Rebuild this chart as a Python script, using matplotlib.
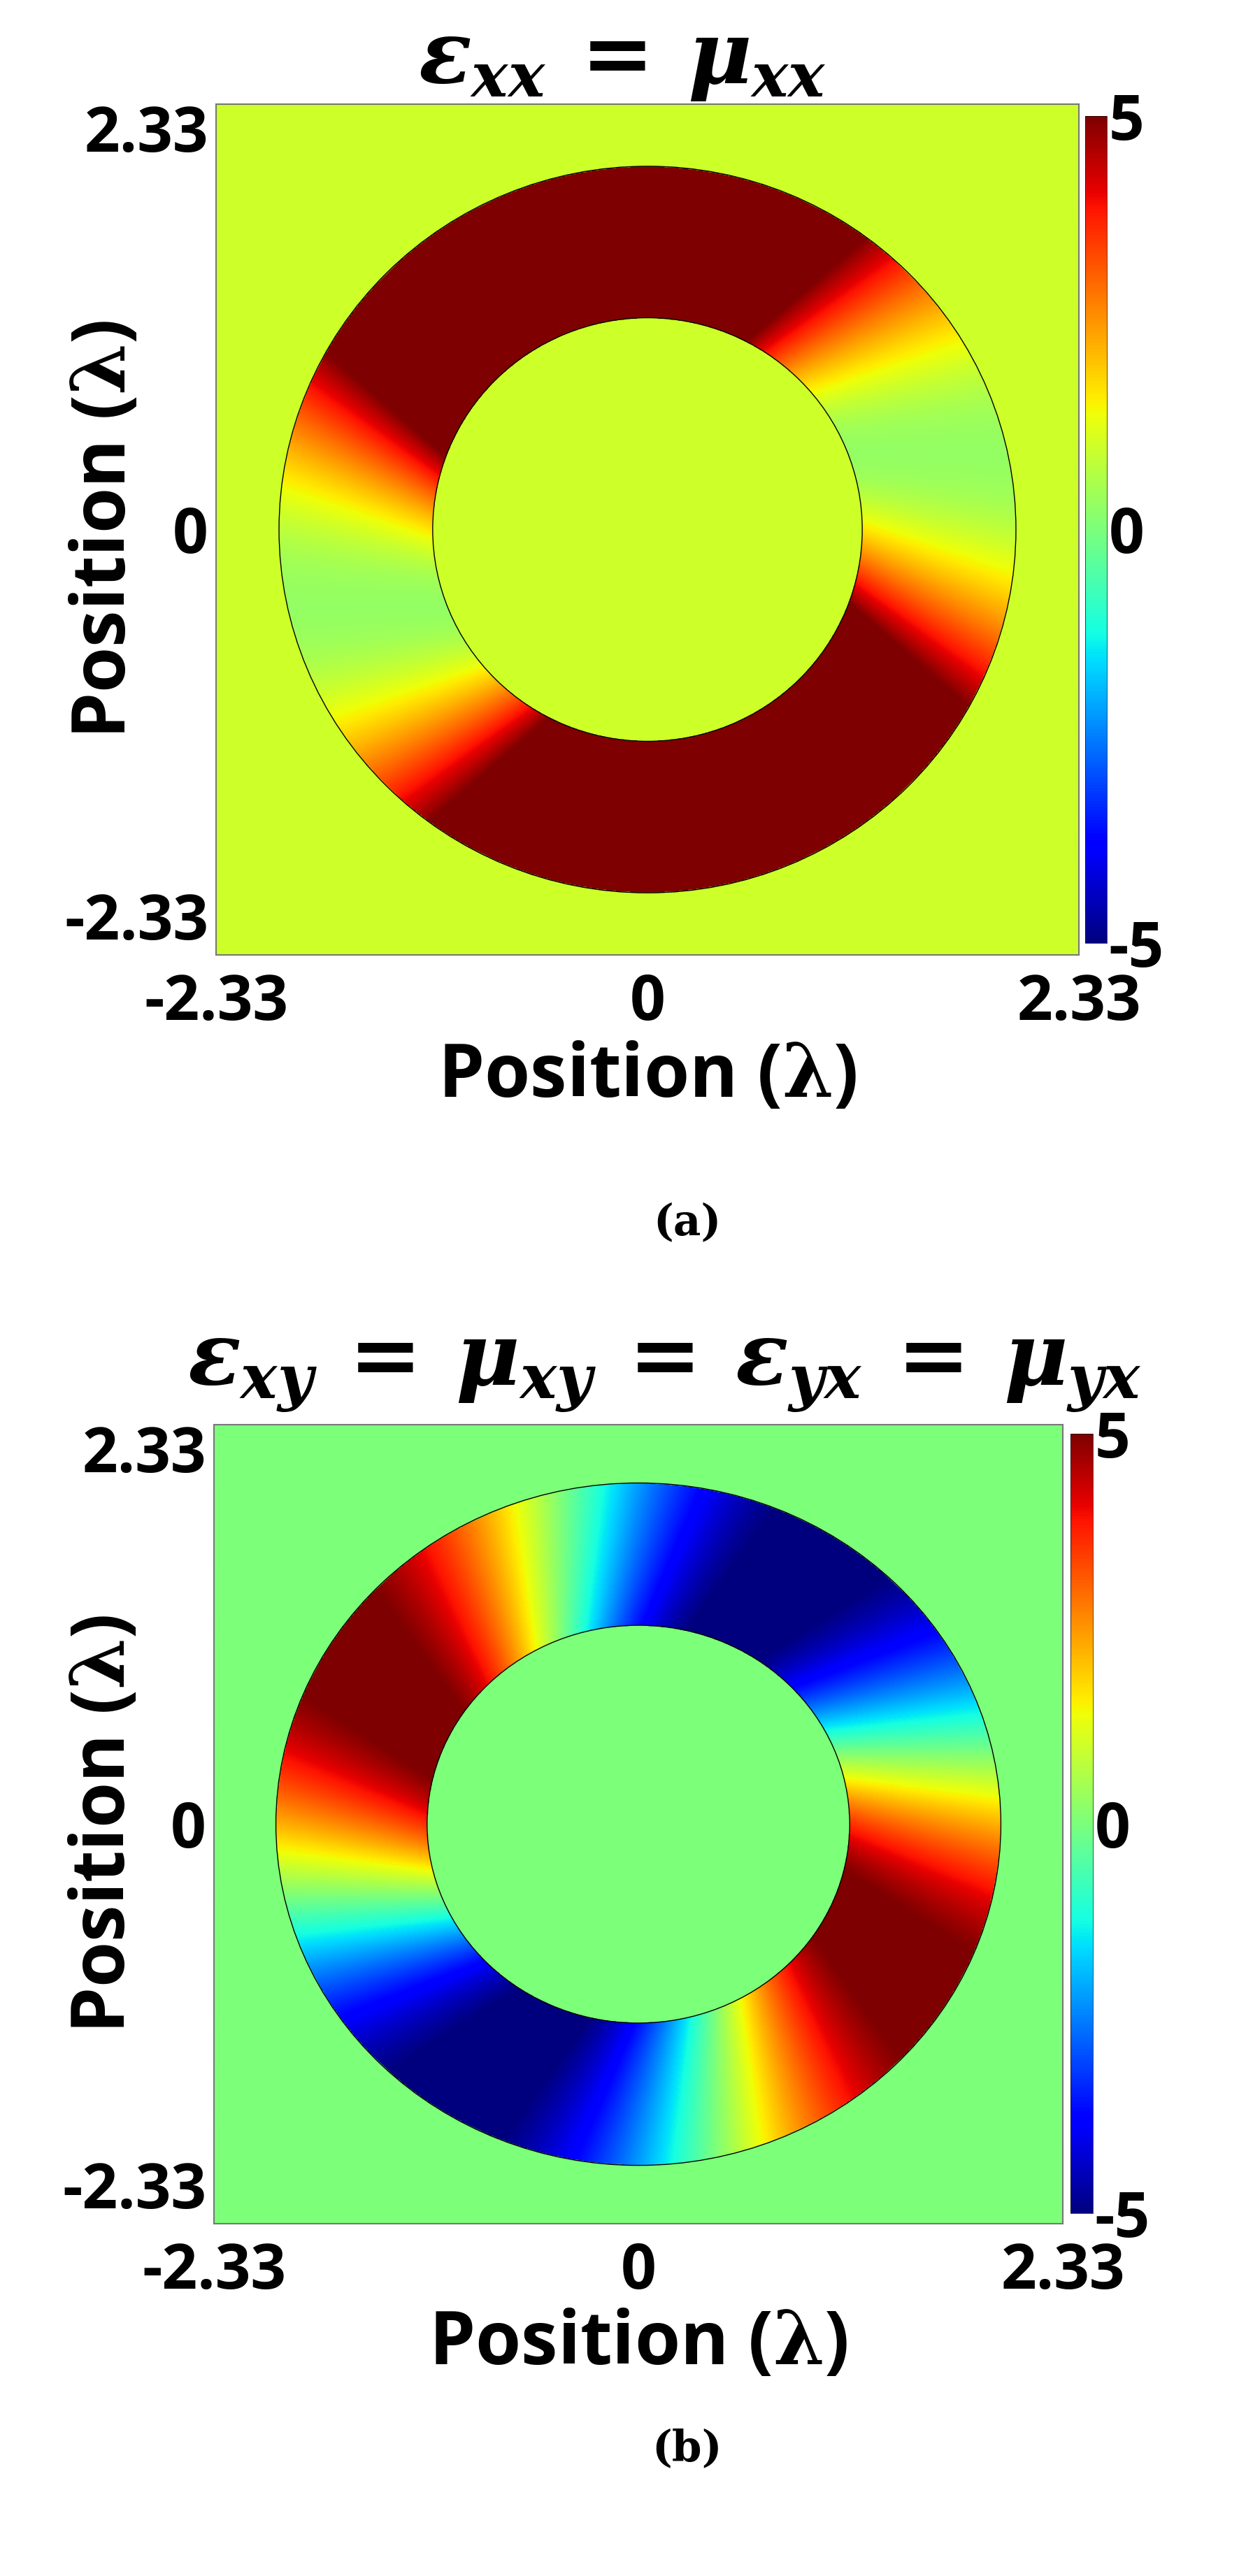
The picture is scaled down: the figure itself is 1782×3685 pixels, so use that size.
import numpy as np
import matplotlib
matplotlib.use("Agg")
import matplotlib.pyplot as plt
from matplotlib.patches import Circle

# ring geometry and material parameters (in wavelengths)
EXTENT = 2.33
R_INNER = 1.16
R_OUTER = 1.99
EPS_RADIAL = 0.3     # principal value along the twisted radial axis
EPS_AZIMUTH = 11.0   # principal value along the twisted azimuthal axis
OFFSET = 0.42        # twist of the principal axes
VMIN, VMAX = -5, 5
BACKGROUND = [1.0, 0.0]   # eps_xx, eps_xy outside the ring
TICKS = [-2.33, 0, 2.33]
TICK_LABELS = ["-2.33", "0", "2.33"]
CBAR_TICKS = [-5, 0, 5]
CBAR_LABELS = ["-5", "0", "5"]
TITLES = [r"$\boldsymbol{\varepsilon_{xx}\,=\,\mu_{xx}}$",
          r"$\boldsymbol{\varepsilon_{xy}\,=\,\mu_{xy}\,=\,\varepsilon_{yx}\,=\,\mu_{yx}}$"]
CAPTIONS = ["(a)", "(b)"]

plt.rcParams["font.family"] = ["Open Sans", "DejaVu Sans"]
plt.rcParams["font.weight"] = "bold"
plt.rcParams["mathtext.fontset"] = "dejavuserif"


def fields():
    x = np.linspace(-EXTENT, EXTENT, 900)
    X, Y = np.meshgrid(x, x)
    r = np.hypot(X, Y)
    phi = np.arctan2(Y, X)
    inside = (r > R_INNER) & (r < R_OUTER)
    rr = np.where(inside, r, 1.5)
    th = phi - np.arcsin(np.clip(OFFSET / rr, -1, 1))
    exx = EPS_RADIAL * np.cos(th) ** 2 + EPS_AZIMUTH * np.sin(th) ** 2
    exy = (EPS_RADIAL - EPS_AZIMUTH) * np.sin(th) * np.cos(th)
    exx = np.where(inside, exx, BACKGROUND[0])
    exy = np.where(inside, exy, BACKGROUND[1])
    return exx, exy


data = fields()
W, H = 1782, 3685
fig = plt.figure(figsize=(W / 100, H / 100), dpi=100)

axes_px = [(309, 149, 1543, 1366), (306, 2038, 1520, 3181)]
cbar_px = [(1552, 166, 1583, 1349), (1531, 2051, 1563, 3166)]
title_px = [(890, 86), (950, 1960)]
cap_px = [(983, 1749), (983, 3503)]
xlab_y = [-0.10, -0.105]
lab = r"Position ($\boldsymbol{\lambda}$)"

for i in range(2):
    l, t, r_, b = axes_px[i]
    ax = fig.add_axes([l / W, 1 - b / H, (r_ - l) / W, (b - t) / H])
    im = ax.imshow(data[i], extent=[-EXTENT, EXTENT, -EXTENT, EXTENT], origin="lower",
                   cmap="jet", vmin=VMIN, vmax=VMAX, aspect="auto", interpolation="bilinear")
    for rad in (R_INNER, R_OUTER):
        ax.add_patch(Circle((0, 0), rad, fill=False, ec="black", lw=1))
    ax.set_xticks(TICKS)
    ax.set_yticks(TICKS)
    ax.set_xticklabels(TICK_LABELS, fontweight="bold")
    ax.set_yticklabels(TICK_LABELS, fontweight="bold")
    ylabs = ax.get_yticklabels()
    ylabs[0].set_va("bottom")
    ylabs[2].set_va("top")
    ax.tick_params(length=0, labelsize=64, pad=8)
    ax.tick_params(axis="x", pad=18)
    ax.set_xlabel(lab, fontsize=76, fontweight="bold")
    ax.set_ylabel(lab, fontsize=76, fontweight="bold")
    ax.xaxis.set_label_coords(0.5, xlab_y[i])
    ax.yaxis.set_label_coords(-0.085, 0.5)
    for s in ax.spines.values():
        s.set_color("#777777")
        s.set_linewidth(1.5)
    cl, ct, cr, cb = cbar_px[i]
    cax = fig.add_axes([cl / W, 1 - cb / H, (cr - cl) / W, (cb - ct) / H])
    cbar = fig.colorbar(im, cax=cax, ticks=CBAR_TICKS)
    cbar.ax.set_yticklabels(CBAR_LABELS, fontweight="bold")
    cbar.ax.tick_params(labelsize=64, length=0, pad=2)
    cbar.outline.set_linewidth(0.5)
    fig.text(title_px[i][0] / W, 1 - title_px[i][1] / H, TITLES[i], fontsize=90,
             ha="center", va="center")
    fig.text(cap_px[i][0] / W, 1 - cap_px[i][1] / H, CAPTIONS[i], fontsize=44,
             ha="center", va="center", family="DejaVu Serif", fontweight="bold")

fig.savefig("out.png", dpi=100)
